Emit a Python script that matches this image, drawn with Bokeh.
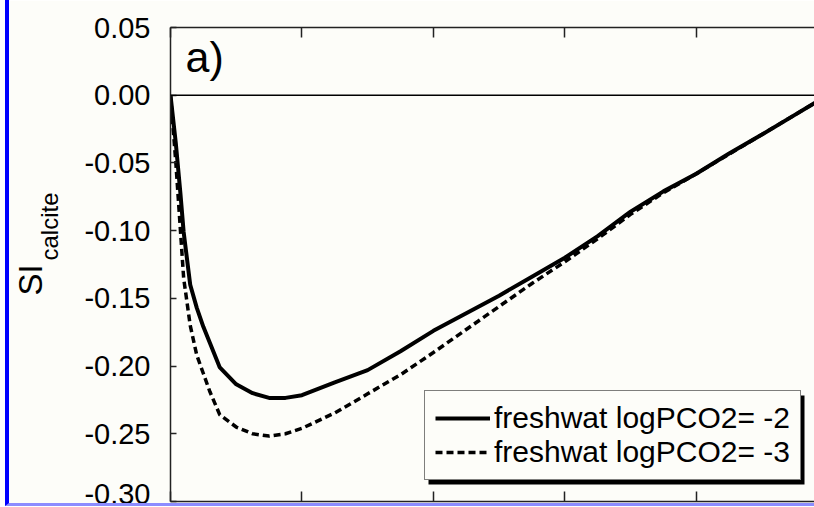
from bokeh.plotting import figure
from bokeh.models import (Legend, LegendItem, Label, Span, BoxAnnotation, LinearAxis,
                          FixedTicker, Range1d, PrintfTickFormatter, ColumnDataSource, Title)
from bokeh.embed import file_html
from bokeh.resources import INLINE

# mixing fraction (x) and saturation index of calcite (y)
frac = [0.0, 0.008, 0.015, 0.02, 0.03, 0.04, 0.05, 0.06, 0.075, 0.1, 0.125, 0.15, 0.175,
        0.2, 0.25, 0.3, 0.35, 0.4, 0.45, 0.5, 0.55, 0.6, 0.65, 0.7, 0.75, 0.8, 0.85,
        0.9, 0.95, 1.0]
si_pco2_m2 = [0.0, -0.035, -0.072, -0.101, -0.140, -0.157, -0.171, -0.183, -0.201, -0.2135,
              -0.220, -0.2235, -0.2235, -0.2215, -0.212, -0.203, -0.189, -0.174, -0.161,
              -0.148, -0.134, -0.120, -0.104, -0.086, -0.071, -0.058, -0.043, -0.029,
              -0.0145, 0.0]
si_pco2_m3 = [0.0, -0.049, -0.099, -0.135, -0.170, -0.192, -0.2055, -0.219, -0.236, -0.245,
              -0.250, -0.2517, -0.250, -0.246, -0.2346, -0.2205, -0.2064, -0.190, -0.173,
              -0.156, -0.139, -0.123, -0.106, -0.088, -0.072, -0.058, -0.0435, -0.029,
              -0.0145, 0.0]
labels = ["freshwat logPCO2= -2", "freshwat logPCO2= -3"]
x_ticks = [0.0, 0.2, 0.4, 0.6, 0.8, 1.0]
y_ticks = [-0.30, -0.25, -0.20, -0.15, -0.10, -0.05, 0.00, 0.05]

BG = "#fdfdf9"
FONT = "Liberation Sans"

p = figure(width=809, height=506, output_backend="svg", toolbar_location=None,
           x_range=Range1d(0, 0.986), y_range=Range1d(-0.30, 0.05),
           min_border_left=161, min_border_right=0, min_border_top=27, min_border_bottom=5,
           background_fill_color=BG, border_fill_color=BG, outline_line_color=None)
p.styles = {"margin-left": "5px", "border-left": "4px solid #0000ff",
            "border-bottom": "3px solid #8c8cff"}
p.grid.visible = False

# bottom axis
xa = p.xaxis[0]
xa.ticker = FixedTicker(ticks=x_ticks)
xa.major_tick_in = 10
xa.major_tick_out = 0
xa.minor_tick_line_color = None
xa.major_label_text_font_size = "0px"
xa.major_label_standoff = 0
xa.axis_line_width = 1.5
xa.axis_line_color = "#222222"
xa.major_tick_line_width = 1.5
xa.major_tick_line_color = "#222222"

# top axis
ta = LinearAxis(ticker=FixedTicker(ticks=x_ticks), major_tick_in=10, major_tick_out=0,
                minor_tick_line_color=None, major_label_text_font_size="0px",
                major_label_standoff=0, axis_line_width=1.5, axis_line_color="#222222",
                major_tick_line_width=1.5, major_tick_line_color="#222222")
p.add_layout(ta, "above")

# left axis
ya = p.yaxis[0]
ya.ticker = FixedTicker(ticks=y_ticks)
ya.formatter = PrintfTickFormatter(format="%.2f")
ya.major_tick_in = 6
ya.major_tick_out = 0
ya.minor_tick_line_color = None
ya.major_label_standoff = 20
ya.major_label_text_font = FONT
ya.major_label_text_font_size = "29px"
ya.major_label_text_color = "black"
ya.axis_line_width = 1.5
ya.axis_line_color = "#222222"
ya.major_tick_line_width = 1.5
ya.major_tick_line_color = "#222222"
ya.axis_label = " "
ya.axis_label_text_font_size = "1px"
ya.axis_label_standoff = 25

# y-axis title SI_calcite
p.add_layout(Title(text="calcite", align="left", offset=241, standoff=-21,
                   text_font=FONT, text_font_size="24px", text_font_style="normal",
                   text_color="black"), "left")
p.add_layout(Title(text="SI", align="left", offset=206, standoff=-8,
                   text_font=FONT, text_font_size="33px", text_font_style="normal",
                   text_color="black"), "left")

# zero line
p.add_layout(Span(location=0, dimension="width", line_color="black", line_width=1.5))

src = ColumnDataSource(dict(x=frac, a=si_pco2_m2, b=si_pco2_m3))
r1 = p.line("x", "a", source=src, line_color="black", line_width=4)
r2 = p.line("x", "b", source=src, line_color="black", line_width=3.5, line_dash="7 4")

# legend shadow
p.add_layout(BoxAnnotation(left=258, right=634, bottom=17, top=106,
                           left_units="screen", right_units="screen",
                           bottom_units="screen", top_units="screen",
                           fill_color="black", fill_alpha=1, line_color=None))

legend = Legend(items=[LegendItem(label=labels[0], renderers=[r1]),
                       LegendItem(label=labels[1], renderers=[r2])],
                location=(254, 21), margin=0, padding=10, spacing=0,
                glyph_width=55, glyph_height=20, label_standoff=4,
                label_text_font=FONT, label_text_font_size="30px",
                label_text_color="black",
                border_line_color="black", border_line_width=1.5,
                background_fill_color=BG, background_fill_alpha=1)
p.add_layout(legend)

# panel label
p.add_layout(Label(x=15, y=0.028, x_units="screen", y_units="data", text="a)",
                   text_font=FONT, text_font_size="43px", text_color="black",
                   text_baseline="alphabetic"))

open("out.html", "w").write(file_html(p, INLINE))
